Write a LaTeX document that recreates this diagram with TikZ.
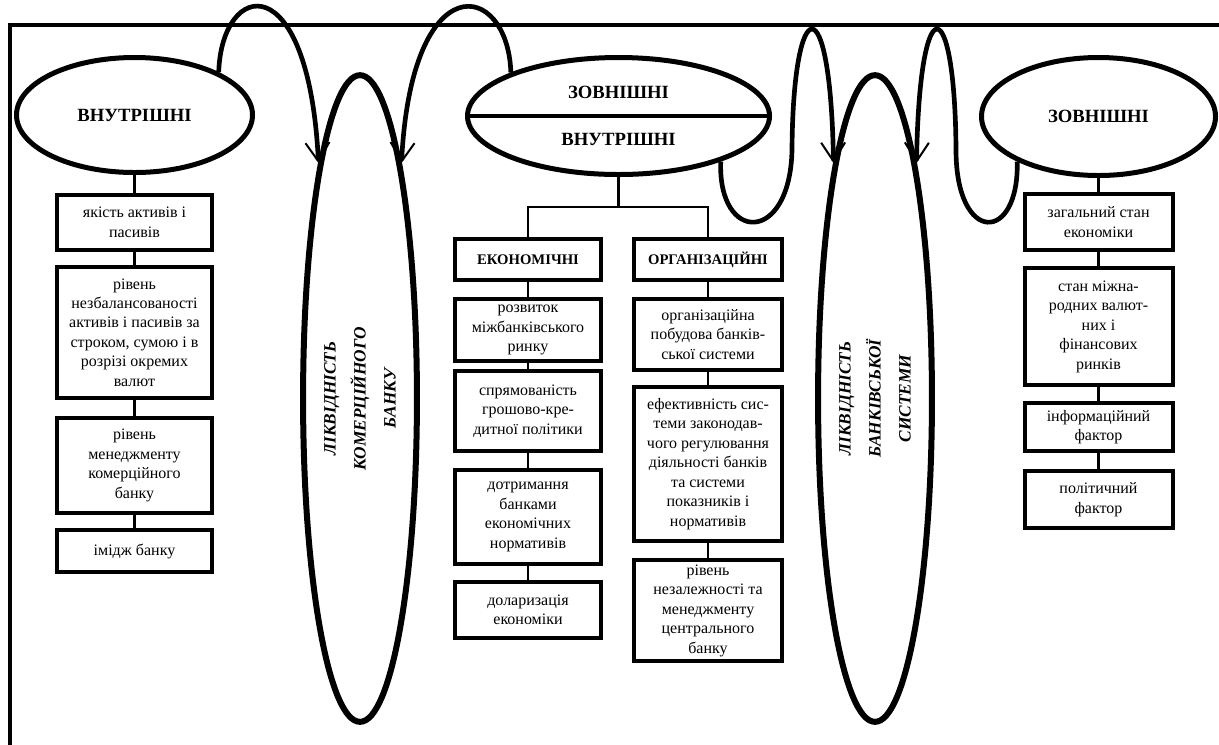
\documentclass[tikz,border=0pt]{standalone}
\usepackage{fontspec}
\setmainfont{Liberation Serif}
\usetikzlibrary{arrows.meta, shapes.geometric}

\begin{document}
\begin{tikzpicture}[x=0.75pt, y=-0.75pt,
    >={Straight Barb[length=14pt, width=18pt, line width=1.5pt]},
    factor/.style={draw, line width=3pt, align=center, inner sep=0pt, font=\fontsize{12}{14.6}\selectfont},
    group/.style={factor, font=\fontsize{11}{13}\selectfont\bfseries},
    head/.style={draw, ellipse, line width=3.75pt, align=center, font=\fontsize{14}{17}\selectfont\bfseries},
    liq/.style={draw, ellipse, rotate=90, line width=4.5pt, minimum width=485pt, minimum height=81.75pt,
        align=center, font=\fontsize{13}{22.5}\selectfont\bfseries\itshape},
    link/.style={line width=2pt},
    loopline/.style={line width=3.5pt}]
    \clip (0,0) rectangle (1219,744);
    \draw[line width=3pt] (10,25) rectangle (1260,790);

    % factor groups
    \node[head, minimum width=177pt, minimum height=86.25pt] (inner) at (134.5,115) {ВНУТРІШНІ};
    \node[head, minimum width=226.5pt, minimum height=87.75pt] (mid) at (618.5,116) {ЗОВНІШНІ\\[18pt]ВНУТРІШНІ};
    \draw[line width=3pt] (mid.west) -- (mid.east);
    \node[head, minimum width=175.5pt, minimum height=88.5pt] (outer) at (1098.5,116.5) {ЗОВНІШНІ};

    % liquidity
    \node[liq] (liqbank) at (360,398.5) {ЛІКВІДНІСТЬ\\КОМЕРЦІЙНОГО\\БАНКУ};
    \node[liq] (liqsys) at (875,398.5) {ЛІКВІДНІСТЬ\\БАНКІВСЬКОЇ\\СИСТЕМИ};

    % internal factors of the bank
    \node[factor, minimum width=116.25pt, minimum height=41.25pt] (int1) at (134.5,222.5) {якість активів і\\пасивів};
    \node[factor, minimum width=116.25pt, minimum height=98.25pt] (int2) at (134.5,332.5) {рівень\\незбалансованості\\активів і пасивів за\\строком, сумою і в\\розрізі окремих\\валют};
    \node[factor, minimum width=116.25pt, minimum height=71.25pt] (int3) at (134.5,465.5) {рівень\\менеджменту\\комерційного\\банку};
    \node[factor, minimum width=116.25pt, minimum height=31.5pt] (int4) at (134.5,551) {імідж банку};
    \draw[link] (inner.south) -- (int1.north) (int1.south) -- (int2.north)
        (int2.south) -- (int3.north) (int3.south) -- (int4.north);

    % economic and organisational
    \coordinate (fork) at (618.5,207);
    \node[group, minimum width=109.5pt, minimum height=30.75pt] (econ) at (528,259.5) {ЕКОНОМІЧНІ};
    \node[group, minimum width=111pt, minimum height=30.75pt] (org) at (708,259.5) {ОРГАНІЗАЦІЙНІ};
    \draw[link] (mid.south) -- (fork);
    \draw[link] (econ.north) |- (fork) -| (org.north);

    \node[factor, minimum width=109.5pt, minimum height=46.5pt] (eco1) at (528,330) {розвиток\\міжбанківського\\ринку};
    \node[factor, minimum width=109.5pt, minimum height=60pt] (eco2) at (528,411) {спрямованість\\грошово-кре-\\дитної політики};
    \node[factor, minimum width=109.5pt, minimum height=70.5pt] (eco3) at (528,517) {дотримання\\банками\\економічних\\нормативів};
    \node[factor, minimum width=109.5pt, minimum height=42pt] (eco4) at (528,610) {доларизація\\економіки};
    \draw[link] (econ.south) -- (eco1.north) (eco1.south) -- (eco2.north)
        (eco2.south) -- (eco3.north) (eco3.south) -- (eco4.north);

    \node[factor, minimum width=111pt, minimum height=53.25pt] (org1) at (708,334.5) {організаційна\\побудова банків-\\ської системи};
    \node[factor, minimum width=111pt, minimum height=115.5pt] (org2) at (708,464) {ефективність сис-\\теми законодав-\\чого регулювання\\діяльності банків\\та системи\\показників і\\нормативів};
    \node[factor, minimum width=111pt, minimum height=75.75pt] (org3) at (708,610.5) {рівень\\незалежності та\\менеджменту\\центрального\\банку};
    \draw[link] (org.south) -- (org1.north) (org1.south) -- (org2.north) (org2.south) -- (org3.north);

    % external factors
    \node[factor, minimum width=111pt, minimum height=42pt] (ext1) at (1098.5,222) {загальний стан\\економіки};
    \node[factor, minimum width=111pt, minimum height=87.75pt] (ext2) at (1098.5,326.5) {стан міжна-\\родних валют-\\них і\\фінансових\\ринків};
    \node[factor, minimum width=111pt, minimum height=36pt] (ext3) at (1098.5,427) {інформаційний\\фактор};
    \node[factor, minimum width=111pt, minimum height=42.75pt] (ext4) at (1098.5,499.5) {політичний\\фактор};
    \draw[link] (outer.south) -- (ext1.north) (ext1.south) -- (ext2.north)
        (ext2.south) -- (ext3.north) (ext3.south) -- (ext4.north);

    % influence loops
    \draw[loopline, ->] (inner.27) .. controls +(3,-92) and +(-10,-200) .. (liqbank.10);
    \draw[loopline, ->] (mid.158) .. controls +(-3,-92) and +(10,-200) .. (liqbank.-10);
    \draw[loopline, ->] (mid.-24) .. controls +(-3,82) and +(-2,95) .. (792,150)
        .. controls +(1,-158) and +(-3,-181) .. (liqsys.10);
    \draw[loopline, ->] (outer.209) .. controls +(2,82) and +(0,95) .. (956,150)
        .. controls +(-1,-158) and +(3,-181) .. (liqsys.-10);
\end{tikzpicture}
\end{document}
